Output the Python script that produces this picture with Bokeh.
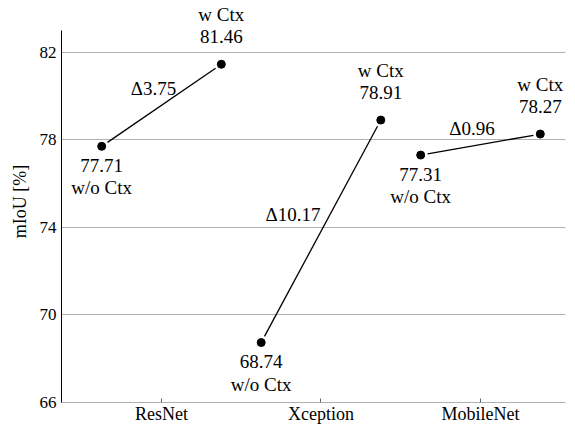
import numpy as np
from bokeh.plotting import figure
from bokeh.models import ColumnDataSource, LabelSet, FixedTicker
from bokeh.embed import file_html
from bokeh.resources import INLINE

# ---- data ----
backbones = ["ResNet", "Xception", "MobileNet"]
miou_without_ctx = [77.71, 68.74, 77.31]
miou_with_ctx = [81.46, 78.91, 78.27]
y_ticks = [66, 70, 74, 78, 82]

# ---- layout / style ----
FONT = "Liberation Serif"
X_START, X_END = -0.627, 2.533
Y_START, Y_AXIS_TOP, Y_END = 66, 83, 84.375
PAIR_OFFSET = 0.375
GRID = "#b0b0b0"
FIG_W, FIG_H = 575, 426
BORDER_L, BORDER_R, BORDER_T, BORDER_B = 61, 10, 0, 21
FRAME_W = FIG_W - BORDER_L - BORDER_R
FRAME_H = FIG_H - BORDER_T - BORDER_B
SHRINK_PX = 7
DELTA_DX_PX = [-8, -28, -8.5]   # horizontal nudges for delta labels

idx = np.arange(len(backbones), dtype=float)
x_wo = idx - PAIR_OFFSET
x_w = idx + PAIR_OFFSET
y_wo = np.array(miou_without_ctx)
y_w = np.array(miou_with_ctx)

p = figure(width=FIG_W, height=FIG_H, output_backend="svg", toolbar_location=None,
           x_range=(X_START, X_END), y_range=(Y_START, Y_END),
           min_border_left=BORDER_L, min_border_right=BORDER_R,
           min_border_top=BORDER_T, min_border_bottom=BORDER_B)
p.outline_line_color = None
p.background_fill_color = "white"
p.border_fill_color = "white"

# grid
p.xgrid.visible = False
p.ygrid.ticker = FixedTicker(ticks=y_ticks)
p.ygrid.grid_line_color = GRID
p.ygrid.grid_line_width = 1

# x axis
p.xaxis.ticker = FixedTicker(ticks=list(idx))
p.xaxis.major_label_overrides = {float(i): name for i, name in zip(idx, backbones)}
p.xaxis.axis_line_color = GRID
p.xaxis.axis_line_width = 1
p.xaxis.major_tick_in = 4
p.xaxis.major_tick_out = 0
p.xaxis.major_tick_line_color = "#666666"
p.xaxis.minor_tick_line_color = None
p.xaxis.major_label_standoff = 1
p.xaxis.major_label_text_font = FONT
p.xaxis.major_label_text_font_size = "18px"
p.xaxis.major_label_text_color = "black"

# y axis
p.yaxis.ticker = FixedTicker(ticks=y_ticks)
p.yaxis.bounds = (Y_START, Y_AXIS_TOP)
p.yaxis.axis_line_color = "black"
p.yaxis.axis_line_width = 1
p.yaxis.major_tick_in = 0
p.yaxis.major_tick_out = 0
p.yaxis.minor_tick_line_color = None
p.yaxis.major_label_standoff = 5
p.yaxis.major_label_text_font = FONT
p.yaxis.major_label_text_font_size = "17px"
p.yaxis.major_label_text_color = "black"
p.yaxis.axis_label = "mIoU [%]"
p.yaxis.axis_label_text_font = FONT
p.yaxis.axis_label_text_font_style = "normal"
p.yaxis.axis_label_text_font_size = "18px"
p.yaxis.axis_label_text_color = "black"
p.yaxis.axis_label_standoff = 7

# connecting segments, shortened near markers (computed in pixel space)
sx = FRAME_W / (X_END - X_START)
sy = FRAME_H / (Y_END - Y_START)
dx = x_w - x_wo
dy = y_w - y_wo
L = np.hypot(dx * sx, dy * sy)
f = SHRINK_PX / L
seg = ColumnDataSource(dict(x0=x_wo + dx * f, y0=y_wo + dy * f,
                            x1=x_w - dx * f, y1=y_w - dy * f))
p.segment("x0", "y0", "x1", "y1", source=seg, line_color="black", line_width=1.3)

# markers
pts = ColumnDataSource(dict(x=np.concatenate([x_wo, x_w]), y=np.concatenate([y_wo, y_w])))
p.scatter("x", "y", source=pts, size=8, color="black")

# labels
txt = dict(text_font=FONT, text_font_size="19px", text_color="black",
           text_align="center", text_baseline="alphabetic")

src_w = ColumnDataSource(dict(x=x_w, y=y_w,
                              val=[f"{v:.2f}" for v in y_w],
                              tag=["w Ctx"] * len(y_w)))
src_wo = ColumnDataSource(dict(x=x_wo, y=y_wo,
                               val=[f"{v:.2f}" for v in y_wo],
                               tag=["w/o Ctx"] * len(y_wo)))
p.add_layout(LabelSet(x="x", y="y", text="val", source=src_w, y_offset=21, **txt))
p.add_layout(LabelSet(x="x", y="y", text="tag", source=src_w, y_offset=43.5, **txt))
p.add_layout(LabelSet(x="x", y="y", text="val", source=src_wo, y_offset=-25.5, **txt))
p.add_layout(LabelSet(x="x", y="y", text="tag", source=src_wo, y_offset=-48, **txt))

src_d = ColumnDataSource(dict(x=(x_w + x_wo) / 2 + np.array(DELTA_DX_PX) / sx,
                              y=(y_w + y_wo) / 2,
                              text=[f"\u0394{d:.2f}" for d in (y_w - y_wo)]))
p.add_layout(LabelSet(x="x", y="y", text="text", source=src_d, y_offset=10, **txt))

open("out.html", "w").write(file_html(p, INLINE))
